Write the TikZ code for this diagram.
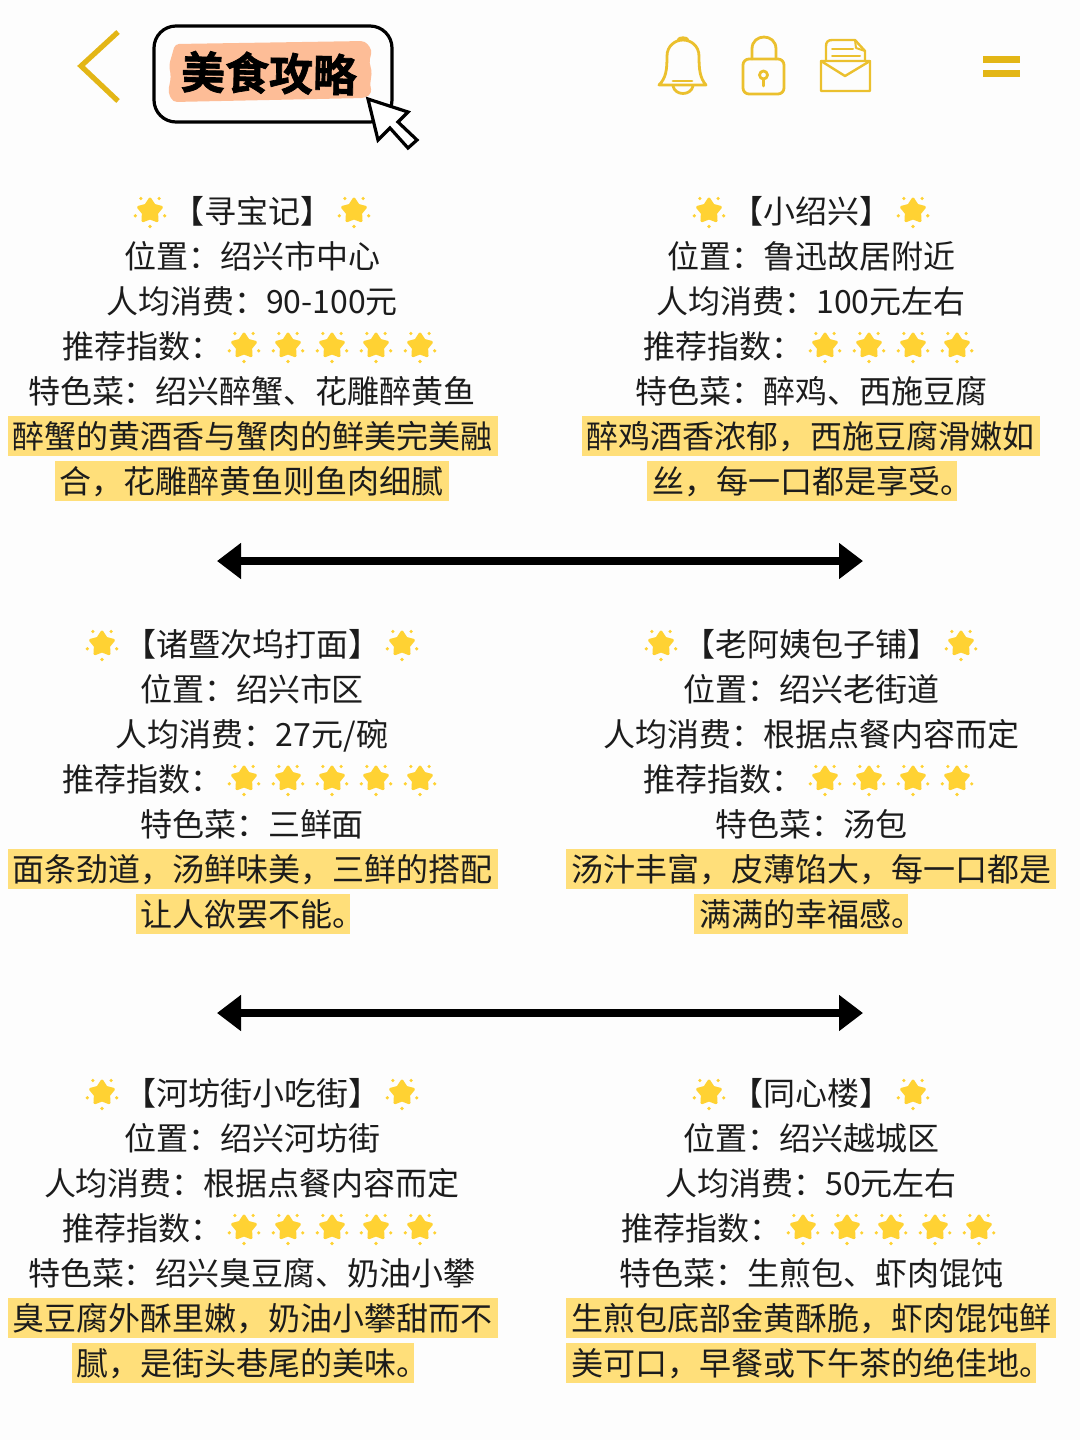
\documentclass[tikz,border=0pt]{standalone}
\usepackage{fontspec}
\usetikzlibrary{arrows.meta}
\setmainfont{Noto Sans CJK SC}
\newfontfamily\titlefont[FakeBold=1.6]{Noto Sans CJK SC Bold}
\definecolor{bgc}{HTML}{FDFDFD}
\definecolor{hlc}{HTML}{FFDF7A}
\definecolor{starc}{HTML}{FFD233}
\definecolor{iconc}{HTML}{EBC02E}
\definecolor{goldc}{HTML}{E3B616}
\definecolor{peach}{HTML}{FDBD97}
\definecolor{inkc}{HTML}{1C1C1C}
\newcommand{\trim}{\kern-15pt}
\tikzset{
  line/.style={font=\fontsize{24pt}{24pt}\selectfont,text=inkc,inner sep=0pt,text height=21pt,text depth=2.5pt,anchor=center},
  lineleft/.style={line,anchor=west},
  hl/.style={line,fill=hlc,inner xsep=3.75pt,text height=24.5pt,text depth=5.5pt},
  icon/.style={draw=iconc,line width=2.1pt,line join=round,line cap=round,fill=none},
  dbl/.style={line width=6pt,draw=black,{Triangle[length=18pt,width=26pt]}-{Triangle[length=18pt,width=26pt]}}
}
\newcommand{\sunstar}[2]{%
  \begin{scope}[shift={(#1,#2+1)}]
    \fill[starc,draw=starc,line width=2.2pt,line join=round]
      (270:12)--(306:7)--(342:12)--(18:7)--(54:12)--(90:7)--(126:12)--(162:7)--(198:12)--(234:7)--cycle;
    \foreach \a in {90,18,162,234,306}{\fill[starc] (\a+0:15.5) circle (1.8);}
  \end{scope}}
\begin{document}
\begin{tikzpicture}[x=0.75pt,y=-0.75pt]
\useasboundingbox (0,0) rectangle (1080,1440);
\fill[bgc] (0,0) rectangle (1080,1440);
% header
\draw[goldc,line width=3.9pt] (118,32)--(81,66)--(118,101);
\draw[black,line width=2.4pt,rounded corners=16.5pt] (154,26) rectangle (392,122);
\fill[peach,rounded corners=3pt] (175,44)--(365,41)--(372,50)--(369,63)--(372,70)--(370,86)--(372,93)--(365,98)--(173,102)--(168,92)--(171,77)--(169,65)--(172,55)--cycle;
\node[font=\fontsize{33pt}{33pt}\titlefont,text=black,inner sep=0pt,rotate=-1] (title) at (269,73) {美食攻略};
\draw[fill=white,draw=black,line width=2.4pt,line join=miter] (368,99)--(408,112)--(398,122)--(417,140)--(408,148)--(390,128)--(378,140)--cycle;
% bell
\draw[icon] (659,85) .. controls (666,78) and (667,70) .. (667,56) .. controls (667,46) and (675,40) .. (683,40) .. controls (691,40) and (699,46) .. (699,56) .. controls (699,70) and (700,78) .. (706,85) -- cycle;
\draw[icon] (678,40) .. controls (679,37) and (687,37) .. (688,40);
\draw[icon] (673,81) -- (692,81);
\draw[icon] (673,86) .. controls (675,96) and (691,96) .. (693,86);
% lock
\draw[icon] (752,59) -- (752,49) .. controls (752,33) and (776,33) .. (776,49) -- (776,59);
\draw[icon,rounded corners=4.5pt] (743,59) rectangle (784,94);
\draw[icon] (763.5,75) circle (4);
\draw[icon] (763.5,79) -- (763.5,86);
% mail
\draw[icon,line width=1.8pt,rounded corners=0.5pt] (821,61) rectangle (870,91);
\draw[icon,line width=1.8pt] (821,61) -- (845,76) -- (870,61);
\draw[icon,line width=1.8pt] (826,61) -- (826,46) .. controls (826,42) and (828,40) .. (832,40) -- (855,40) -- (865,51) -- (865,61);
\draw[icon,line width=1.5pt] (855,40) -- (856,48) -- (865,51);
\draw[icon,line width=1.5pt] (832,49) -- (853,49);
\draw[icon,line width=1.5pt] (832,56) -- (860,56);
% menu
\fill[goldc] (983,56) rectangle (1020,63);
\fill[goldc] (983,70) rectangle (1020,77);
% ---- section 1 left
\node[line] (a1) at (252,211) {【寻宝记】};
\sunstar{150}{210}\sunstar{354}{210}
\node[line] (a2) at (252,256) {位置：绍兴市中心};
\node[line] (a3) at (252,301) {人均消费：90-100元};
\node[lineleft] (a4) at (62,346) {推荐指数：};
\sunstar{244}{345}\sunstar{288}{345}\sunstar{332}{345}\sunstar{376}{345}\sunstar{420}{345}
\node[line] (a5) at (252,391) {特色菜：绍兴醉蟹、花雕醉黄鱼};
\node[hl] (a6) at (252.5,436) {醉蟹的黄酒香与蟹肉的鲜美完美融};
\node[hl] (a7) at (252,481) {合，花雕醉黄鱼则鱼肉细腻};
% section 1 right
\node[line] (b1) at (811,211) {【小绍兴】};
\sunstar{709}{210}\sunstar{913}{210}
\node[line] (b2) at (811,256) {位置：鲁迅故居附近};
\node[line] (b3) at (811,301) {人均消费：100元左右};
\node[lineleft] (b4) at (643,346) {推荐指数：};
\sunstar{825}{345}\sunstar{869}{345}\sunstar{913}{345}\sunstar{957}{345}
\node[line] (b5) at (811,391) {特色菜：醉鸡、西施豆腐};
\node[hl] (b6) at (810.5,436) {醉鸡酒香浓郁，西施豆腐滑嫩如};
\node[hl] (b7) at (802,481) {丝，每一口都是享受。\trim};
% arrow 1
\coordinate (l1) at (217,561);
\coordinate (r1) at (863,561);
\draw[dbl] (l1) -- (r1);
% section 2 left
\node[line] (c1) at (252,644) {【诸暨次坞打面】};
\sunstar{102}{643}\sunstar{402}{643}
\node[line] (c2) at (252,689) {位置：绍兴市区};
\node[line] (c3) at (252,734) {人均消费：27元/碗};
\node[lineleft] (c4) at (62,779) {推荐指数：};
\sunstar{244}{778}\sunstar{288}{778}\sunstar{332}{778}\sunstar{376}{778}\sunstar{420}{778}
\node[line] (c5) at (252,824) {特色菜：三鲜面};
\node[hl] (c6) at (252.5,869) {面条劲道，汤鲜味美，三鲜的搭配};
\node[hl] (c7) at (242.5,914) {让人欲罢不能。\trim};
% section 2 right
\node[line] (d1) at (811,644) {【老阿姨包子铺】};
\sunstar{661}{643}\sunstar{961}{643}
\node[line] (d2) at (811,689) {位置：绍兴老街道};
\node[line] (d3) at (811,734) {人均消费：根据点餐内容而定};
\node[lineleft] (d4) at (643,779) {推荐指数：};
\sunstar{825}{778}\sunstar{869}{778}\sunstar{913}{778}\sunstar{957}{778}
\node[line] (d5) at (811,824) {特色菜：汤包};
\node[hl] (d6) at (811,869) {汤汁丰富，皮薄馅大，每一口都是};
\node[hl] (d7) at (801,914) {满满的幸福感。\trim};
% arrow 2
\coordinate (l2) at (217,1013);
\coordinate (r2) at (863,1013);
\draw[dbl] (l2) -- (r2);
% section 3 left
\node[line] (e1) at (252,1093) {【河坊街小吃街】};
\sunstar{102}{1092}\sunstar{402}{1092}
\node[line] (e2) at (252,1138) {位置：绍兴河坊街};
\node[line] (e3) at (252,1183) {人均消费：根据点餐内容而定};
\node[lineleft] (e4) at (62,1228) {推荐指数：};
\sunstar{244}{1227}\sunstar{288}{1227}\sunstar{332}{1227}\sunstar{376}{1227}\sunstar{420}{1227}
\node[line] (e5) at (252,1273) {特色菜：绍兴臭豆腐、奶油小攀};
\node[hl] (e6) at (252.5,1318) {臭豆腐外酥里嫩，奶油小攀甜而不};
\node[hl] (e7) at (242.5,1363) {腻，是街头巷尾的美味。\trim};
% section 3 right
\node[line] (f1) at (811,1093) {【同心楼】};
\sunstar{709}{1092}\sunstar{913}{1092}
\node[line] (f2) at (811,1138) {位置：绍兴越城区};
\node[line] (f3) at (811,1183) {人均消费：50元左右};
\node[lineleft] (f4) at (621,1228) {推荐指数：};
\sunstar{803}{1227}\sunstar{847}{1227}\sunstar{891}{1227}\sunstar{935}{1227}\sunstar{979}{1227}
\node[line] (f5) at (811,1273) {特色菜：生煎包、虾肉馄饨};
\node[hl] (f6) at (811,1318) {生煎包底部金黄酥脆，虾肉馄饨鲜};
\node[hl] (f7) at (801,1363) {美可口，早餐或下午茶的绝佳地。\trim};
\end{tikzpicture}
\end{document}
